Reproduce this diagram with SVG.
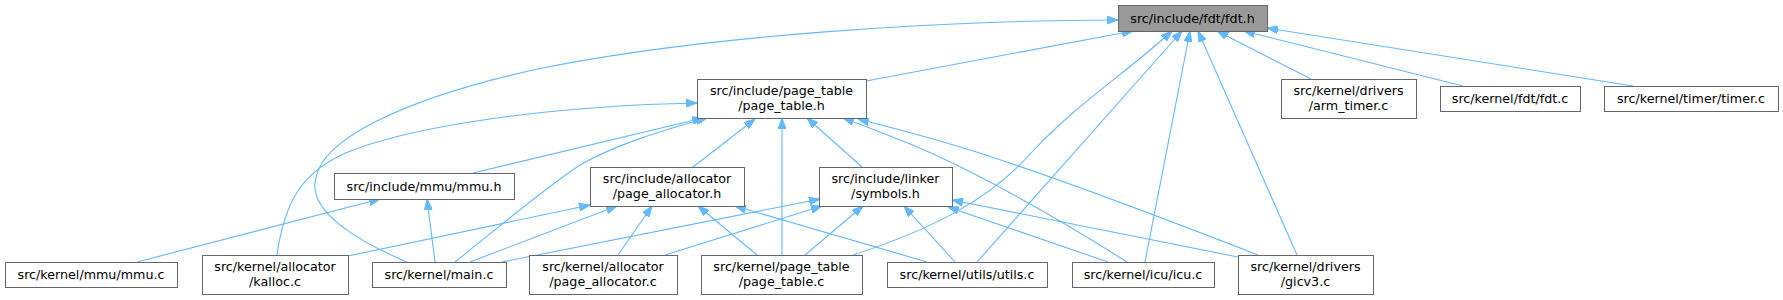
<svg xmlns="http://www.w3.org/2000/svg" width="1783" height="300" viewBox="0 0 1783 300">
<style>
.n rect{fill:#ffffff;stroke:#666666;stroke-width:1}
.n.root rect{fill:#999999}
.n text{font-family:"DejaVu Sans",Verdana,sans-serif;font-size:12.7px;fill:#000000;text-anchor:middle}
.e path{fill:none;stroke:#63b8ff;stroke-width:1.1;marker-end:url(#ah)}
</style>
<defs>
<marker id="ah" markerWidth="11" markerHeight="8" refX="11" refY="4" orient="auto" markerUnits="userSpaceOnUse">
<path d="M0,0 L11,4 L0,8 z" fill="#63b8ff" stroke="#63b8ff" stroke-width="1"/>
</marker>
</defs>
<rect x="0" y="0" width="1783" height="300" fill="#ffffff"/>
<g id="edges" class="e">
<path d="M866,81 L1133,31"/>
<path d="M407,262 C362,243 306,212 316,178 C322,140 400,100 533,70 C700,35 950,20 1118,20"/>
<path d="M853,255 C930,230 990,200 1032,152 C1075,105 1130,70 1172,31"/>
<path d="M977,262 L1182,31"/>
<path d="M1145,262 L1190,31"/>
<path d="M1297,255 L1198,31"/>
<path d="M1311,79 L1217,31"/>
<path d="M1463,86 L1244,31"/>
<path d="M1633,86 L1267,28"/>
<path d="M277,255 C284,205 300,170 353,150 C420,125 550,106 697,103"/>
<path d="M473,173 L703,118"/>
<path d="M455,262 C500,226 545,188 580,165 C615,145 660,131 707,118"/>
<path d="M693,167 L755,119"/>
<path d="M782,255 L782,118"/>
<path d="M862,167 L807,118"/>
<path d="M1127,262 C1050,213 960,163 900,140 C880,132 860,124 843,118"/>
<path d="M1258,255 C1150,213 1040,172 970,150 C925,136 885,126 858,119"/>
<path d="M137,262 L380,199"/>
<path d="M435,262 L427,199"/>
<path d="M348,256 L590,205"/>
<path d="M470,262 L617,206"/>
<path d="M618,255 L652,206"/>
<path d="M757,255 L698,206"/>
<path d="M927,262 L735,206"/>
<path d="M502,262 L820,199"/>
<path d="M665,255 L822,206"/>
<path d="M805,255 L863,206"/>
<path d="M955,262 L904,206"/>
<path d="M1108,262 L948,207"/>
<path d="M1238,257 L952,200"/>
</g>
<g id="node-fdt_h" class="n root"><rect x="1118.5" y="5.5" width="149" height="26"/><text x="1192.5" y="22.5">src/include/fdt/fdt.h</text></g>
<g id="node-page_table_h" class="n"><rect x="697.5" y="79.5" width="169" height="39"/><text x="781.5" y="95">src/include/page_table</text><text x="781.5" y="109.5">/page_table.h</text></g>
<g id="node-arm_timer_c" class="n"><rect x="1281.5" y="79.5" width="135" height="39"/><text x="1348.5" y="95">src/kernel/drivers</text><text x="1348.5" y="109.5">/arm_timer.c</text></g>
<g id="node-fdt_c" class="n"><rect x="1440.5" y="86.5" width="140" height="25"/><text x="1510" y="103">src/kernel/fdt/fdt.c</text></g>
<g id="node-timer_c" class="n"><rect x="1604.5" y="86.5" width="174" height="25"/><text x="1691" y="103">src/kernel/timer/timer.c</text></g>
<g id="node-mmu_h" class="n"><rect x="334.5" y="173.5" width="180" height="26"/><text x="424" y="190.5">src/include/mmu/mmu.h</text></g>
<g id="node-page_allocator_h" class="n"><rect x="590.5" y="167.5" width="154" height="39"/><text x="667" y="183">src/include/allocator</text><text x="667" y="197.5">/page_allocator.h</text></g>
<g id="node-symbols_h" class="n"><rect x="819.5" y="167.5" width="133" height="39"/><text x="885.5" y="183">src/include/linker</text><text x="885.5" y="197.5">/symbols.h</text></g>
<g id="node-mmu_c" class="n"><rect x="5.5" y="262.5" width="172" height="25"/><text x="91" y="279">src/kernel/mmu/mmu.c</text></g>
<g id="node-kalloc_c" class="n"><rect x="202.5" y="255.5" width="146" height="39"/><text x="275" y="271">src/kernel/allocator</text><text x="275" y="285.5">/kalloc.c</text></g>
<g id="node-main_c" class="n"><rect x="372.5" y="262.5" width="134" height="25"/><text x="439" y="279">src/kernel/main.c</text></g>
<g id="node-page_allocator_c" class="n"><rect x="529.5" y="255.5" width="148" height="39"/><text x="603" y="271">src/kernel/allocator</text><text x="603" y="285.5">/page_allocator.c</text></g>
<g id="node-page_table_c" class="n"><rect x="701.5" y="255.5" width="161" height="39"/><text x="781.5" y="271">src/kernel/page_table</text><text x="781.5" y="285.5">/page_table.c</text></g>
<g id="node-utils_c" class="n"><rect x="887.5" y="262.5" width="160" height="25"/><text x="967" y="279">src/kernel/utils/utils.c</text></g>
<g id="node-icu_c" class="n"><rect x="1072.5" y="262.5" width="142" height="25"/><text x="1143" y="279">src/kernel/icu/icu.c</text></g>
<g id="node-gicv3_c" class="n"><rect x="1238.5" y="255.5" width="135" height="39"/><text x="1305.5" y="271">src/kernel/drivers</text><text x="1305.5" y="285.5">/gicv3.c</text></g>
</svg>
